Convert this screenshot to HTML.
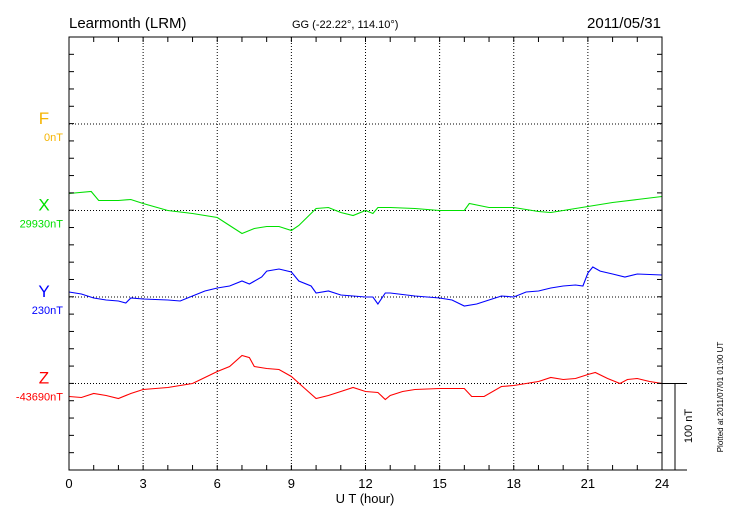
<!DOCTYPE html>
<html><head><meta charset="utf-8"><style>
html,body{margin:0;padding:0;background:#fff;}
svg{display:block;font-family:"Liberation Sans",sans-serif;}
</style></head><body>
<svg id="chart" width="730" height="520" viewBox="0 0 730 520">
<text x="69" y="28" font-size="15">Learmonth (LRM)</text>
<text x="292" y="28" font-size="11">GG (-22.22°, 114.10°)</text>
<text x="661" y="28" font-size="15" text-anchor="end">2011/05/31</text>
<g id="grid"></g>
<g id="series"></g>
<g id="axes"></g>
<text x="365" y="503" font-size="13" text-anchor="middle">U T (hour)</text>
<text transform="translate(692,426) rotate(-90)" font-size="11" text-anchor="middle">100 nT</text>
<text transform="translate(723,397) rotate(-90)" font-size="8" text-anchor="middle">Plotted at 2011/07/01 01:00 UT</text>
</svg>
<script>
const xTicks = [0,3,6,9,12,15,18,21,24];
const baseLabels = ["0nT","29930nT","230nT","-43690nT"];
const compNames = ["F","X","Y","Z"];
const xHours = [0,0.9,1.2,2,2.5,3,4,5,6,6.5,7,7.5,8,8.5,9,9.3,10,10.5,11,11.5,12,12.3,12.5,13,14,15,16,16.2,17,18,19,19.5,20,21,22,23,24];
const xVals = [19.7,22,11.6,11.6,12.7,8.1,0,-3.5,-8.1,-17.3,-26.6,-20.8,-18.5,-18.5,-23.1,-17.3,2.3,3.5,-2.3,-5.8,0,-3.5,3.5,3.5,2.3,0,0,8.1,3.5,3.5,-1.2,-2.3,0,4.6,9.2,12.7,16.2];
const yHours = [0,0.5,1,1.5,2,2.3,2.5,3,4,4.5,5,5.5,6,6.5,7,7.3,7.8,8,8.5,9,9.3,9.8,10,10.5,11,12,12.3,12.5,12.8,13,14,15,15.5,16,16.5,17,17.5,18,18.5,19,19.5,20,20.5,20.8,21,21.2,21.5,22,22.5,23,24];
const yVals = [5.8,3.5,-1.2,-3.5,-4.6,-6.9,-1.2,-2.3,-3.5,-4.6,1.2,6.9,10.4,12.7,18.5,15,23.1,30,32.4,28.9,18.5,12.7,4.6,6.9,2.3,0,0,-8.1,4.6,4.6,1.2,-1.2,-3.5,-10.4,-8.1,-3.5,1.2,0,5.8,6.9,10.4,12.7,13.9,12.7,27.7,34.7,30,26.6,23.1,26.6,25.4];
const zHours = [0,0.5,1,1.5,2,2.5,3,4,5,5.5,6,6.5,7,7.3,7.5,8,8.5,9,9.5,10,10.5,11,11.5,12,12.5,12.8,13,13.5,14,15,16,16.3,16.8,17.5,18,18.5,19,19.5,20,20.5,21,21.3,21.8,22.3,22.6,23,23.5,24];
const zVals = [-15,-16.2,-11.6,-13.9,-17.3,-11.6,-6.9,-4.6,0,6.9,13.9,19.7,32.4,30,19.7,17.3,16.2,8.1,-4.6,-17.3,-13.9,-9.2,-4.6,-9.2,-10.4,-18.5,-13.9,-9.2,-6.9,-5.8,-5.8,-15,-15,-3.5,-2.3,0,2.3,6.9,4.6,5.8,10.4,12.7,5.8,0,4.6,5.8,2.3,0];

const L=69,R=662,T=37,B=470;
const baseY=[124,210.5,297,383.5];
const pxPerNT=0.865;
const colors=["#f5b400","#00e000","#0000ff","#ff0000"];
const sx=h=>L+(R-L)*h/24;
const sy=(i,v)=>baseY[i]-v*pxPerNT;
const NS="http://www.w3.org/2000/svg";
function mk(tag,attrs,parent){const e=document.createElementNS(NS,tag);for(const k in attrs)e.setAttribute(k,attrs[k]);parent.appendChild(e);return e;}
const grid=document.getElementById('grid'),axes=document.getElementById('axes'),ser=document.getElementById('series');
xTicks.forEach((h,i)=>{
  if(i>0&&i<xTicks.length-1){const g=mk('line',{x1:sx(h),x2:sx(h),y1:T,y2:B,stroke:'#000','stroke-width':1,'stroke-dasharray':'1,2'},grid);
  
  }
  const t=mk('text',{x:sx(h),y:488,'font-size':13,'text-anchor':'middle'},axes);t.textContent=h;
  
  
});
baseY.forEach((y,i)=>{
  const g=mk('line',{x1:L,x2:R,y1:y,y2:y,stroke:'#000','stroke-width':1,'stroke-dasharray':'1,2'},grid);
  
  
  const n=mk('text',{x:44,y:y-0,'font-size':17,'text-anchor':'middle',fill:colors[i]},axes);n.textContent=compNames[i];
  
  
  const b=mk('text',{x:63,y:y+17,'font-size':11,'text-anchor':'end',fill:colors[i]},axes);b.textContent=baseLabels[i];
  
  
});
for(let h=0;h<=24;h++){
  mk('line',{x1:sx(h),x2:sx(h),y1:B,y2:B-5,stroke:'#000'},axes);
  mk('line',{x1:sx(h),x2:sx(h),y1:T,y2:T+5,stroke:'#000'},axes);
}
for(let y=T;y<=B;y+=86.6/5){
  mk('line',{x1:L,x2:L+5,y1:y,y2:y,stroke:'#000'},axes);
  mk('line',{x1:R,x2:R-5,y1:y,y2:y,stroke:'#000'},axes);
}
const fr=mk('rect',{x:L,y:T,width:R-L,height:B-T,fill:'none',stroke:'#000','stroke-width':1},axes);


mk('line',{x1:R,x2:687,y1:383.5,y2:383.5,stroke:'#000'},axes);
mk('line',{x1:R,x2:687,y1:B,y2:B,stroke:'#000'},axes);
mk('line',{x1:675,x2:675,y1:383.5,y2:B,stroke:'#000'},axes);
[[xHours,xVals,1,'x-series'],[yHours,yVals,2,'y-series'],[zHours,zVals,3,'z-series']].forEach(([hs,vs,i,name])=>{
  const d=hs.map((h,k)=>(k?'L':'M')+sx(h).toFixed(1)+','+sy(i,vs[k]).toFixed(1)).join('');
  const p=mk('path',{d:d,fill:'none',stroke:colors[i],'stroke-width':1.1},ser);
  
  
});
</script>
</body></html>
